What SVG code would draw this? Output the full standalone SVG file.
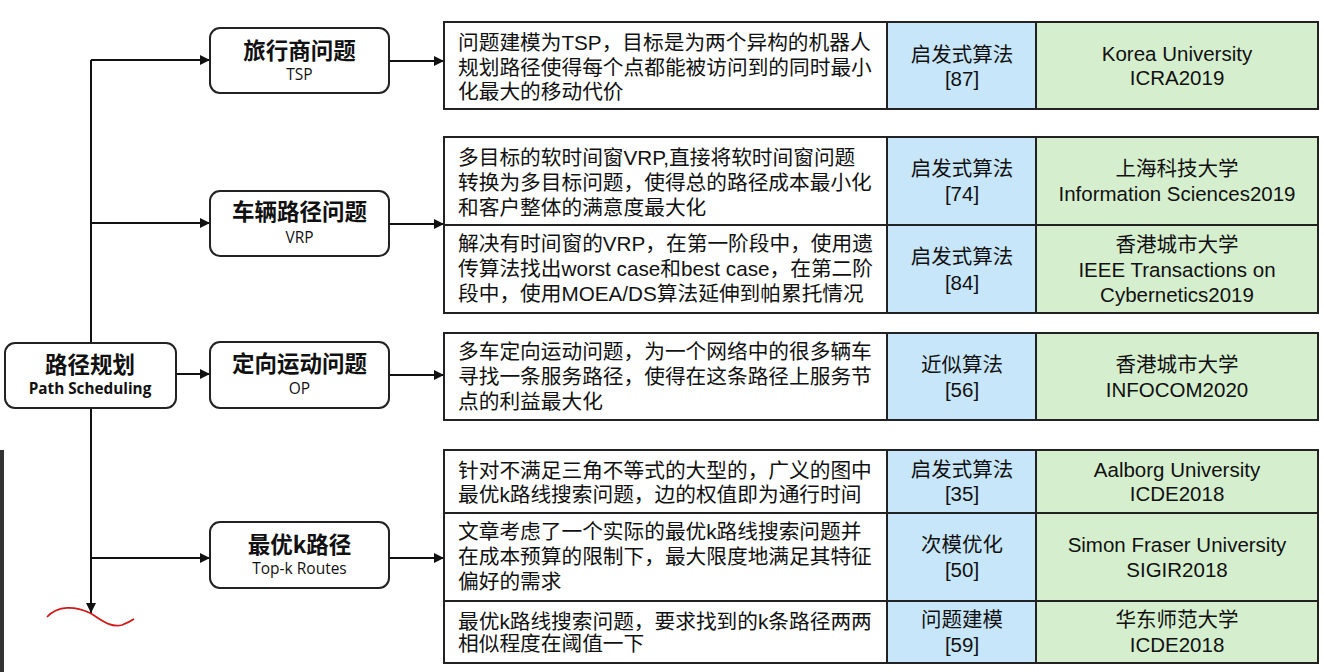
<svg xmlns="http://www.w3.org/2000/svg" width="1323" height="672" viewBox="0 0 1323 672">
<defs>
<marker id="ah" markerWidth="10" markerHeight="10" refX="10" refY="5" orient="auto" markerUnits="userSpaceOnUse">
<path d="M0,0 L10,5 L0,10 Z" fill="#111"/>
</marker>
<style>
.node{fill:#fff;stroke:#222;stroke-width:2}
.ttl{font-family:"Noto Sans CJK SC","Noto Sans",sans-serif;font-weight:bold;font-size:22.5px;fill:#111;text-anchor:middle}
.sub{font-family:"Open Sans","Noto Sans",sans-serif;font-size:15.5px;fill:#111;text-anchor:middle}
.cell{stroke:#222;stroke-width:2}
.w{fill:#fff}.b{fill:#c8e6fa}.g{fill:#d5eece}
.d{font-family:"Liberation Sans","Noto Sans CJK SC",sans-serif;font-size:20.7px;fill:#111}
.c{font-family:"Liberation Sans","Noto Sans CJK SC",sans-serif;font-size:20.5px;fill:#111;text-anchor:middle}
.con{fill:none;stroke:#111;stroke-width:2}
</style>
</defs>
<rect width="1323" height="672" fill="#fff"/>
<rect x="0" y="450" width="4" height="222" fill="#333"/>

<g id="connectors">
<path class="con" d="M91,60 V613" marker-end="url(#ah)"/>
<path class="con" d="M91,60 H210" marker-end="url(#ah)"/>
<path class="con" d="M91,223 H210" marker-end="url(#ah)"/>
<path class="con" d="M176,374 H210" marker-end="url(#ah)"/>
<path class="con" d="M91,558 H210" marker-end="url(#ah)"/>
<path class="con" d="M389,61 H444" marker-end="url(#ah)"/>
<path class="con" d="M389,224 H444" marker-end="url(#ah)"/>
<path class="con" d="M389,375 H444" marker-end="url(#ah)"/>
<path class="con" d="M389,558 H444" marker-end="url(#ah)"/>
</g>

<path d="M47,617 C58,605 75,606 90,613 C102,620 110,628 122,625 C127,623 131,621 134,619" fill="none" stroke="#d01818" stroke-width="1.8"/>

<g id="root">
<rect class="node" x="5" y="343" width="171" height="65" rx="10"/>
<text class="ttl" x="90" y="373">路径规划</text>
<text class="sub" x="90" y="394" style="font-weight:bold;font-size:15.3px">Path Scheduling</text>
</g>
<g id="tsp">
<rect class="node" x="210" y="28" width="179" height="65" rx="10"/>
<text class="ttl" x="299.5" y="59">旅行商问题</text>
<text class="sub" x="299.5" y="80">TSP</text>
</g>
<g id="vrp">
<rect class="node" x="210" y="191" width="179" height="65" rx="10"/>
<text class="ttl" x="299.5" y="220">车辆路径问题</text>
<text class="sub" x="299.5" y="243">VRP</text>
</g>
<g id="op">
<rect class="node" x="210" y="342" width="179" height="66" rx="10"/>
<text class="ttl" x="299.5" y="372">定向运动问题</text>
<text class="sub" x="299.5" y="394">OP</text>
</g>
<g id="topk">
<rect class="node" x="210" y="522" width="179" height="66" rx="10"/>
<text class="ttl" x="299.5" y="553">最优k路径</text>
<text class="sub" x="299.5" y="574">Top-k Routes</text>
</g>

<g id="table-tsp">
<rect class="cell w" x="444" y="22" width="443" height="87"/>
<rect class="cell b" x="887" y="22" width="149" height="87"/>
<rect class="cell g" x="1036" y="22" width="282" height="87"/>
<text class="d" x="458" y="50">问题建模为TSP，目标是为两个异构的机器人</text>
<text class="d" x="458" y="75">规划路径使得每个点都能被访问到的同时最小</text>
<text class="d" x="458" y="99">化最大的移动代价</text>
<text class="c" x="962" y="62">启发式算法</text>
<text class="c" x="962" y="86">[87]</text>
<text class="c" x="1177" y="61">Korea University</text>
<text class="c" x="1177" y="85">ICRA2019</text>
</g>

<g id="table-vrp">
<rect class="cell w" x="444" y="137" width="443" height="88"/>
<rect class="cell b" x="887" y="137" width="149" height="88"/>
<rect class="cell g" x="1036" y="137" width="282" height="88"/>
<rect class="cell w" x="444" y="225" width="443" height="88"/>
<rect class="cell b" x="887" y="225" width="149" height="88"/>
<rect class="cell g" x="1036" y="225" width="282" height="88"/>
<text class="d" x="458" y="165">多目标的软时间窗VRP,直接将软时间窗问题</text>
<text class="d" x="458" y="190">转换为多目标问题，使得总的路径成本最小化</text>
<text class="d" x="458" y="215">和客户整体的满意度最大化</text>
<text class="c" x="962" y="176">启发式算法</text>
<text class="c" x="962" y="201">[74]</text>
<text class="c" x="1177" y="176">上海科技大学</text>
<text class="c" x="1177" y="201">Information Sciences2019</text>
<text class="d" x="458" y="251">解决有时间窗的VRP，在第一阶段中，使用遗</text>
<text class="d" x="458" y="276">传算法找出worst case和best case，在第二阶</text>
<text class="d" x="458" y="301">段中，使用MOEA/DS算法延伸到帕累托情况</text>
<text class="c" x="962" y="264">启发式算法</text>
<text class="c" x="962" y="290">[84]</text>
<text class="c" x="1177" y="252">香港城市大学</text>
<text class="c" x="1177" y="277">IEEE Transactions on</text>
<text class="c" x="1177" y="302">Cybernetics2019</text>
</g>

<g id="table-op">
<rect class="cell w" x="444" y="333" width="443" height="87"/>
<rect class="cell b" x="887" y="333" width="149" height="87"/>
<rect class="cell g" x="1036" y="333" width="282" height="87"/>
<text class="d" x="458" y="359">多车定向运动问题，为一个网络中的很多辆车</text>
<text class="d" x="458" y="384">寻找一条服务路径，使得在这条路径上服务节</text>
<text class="d" x="458" y="409">点的利益最大化</text>
<text class="c" x="962" y="372">近似算法</text>
<text class="c" x="962" y="397">[56]</text>
<text class="c" x="1177" y="372">香港城市大学</text>
<text class="c" x="1177" y="397">INFOCOM2020</text>
</g>

<g id="table-topk">
<rect class="cell w" x="444" y="450" width="443" height="63"/>
<rect class="cell b" x="887" y="450" width="149" height="63"/>
<rect class="cell g" x="1036" y="450" width="282" height="63"/>
<rect class="cell w" x="444" y="513" width="443" height="88"/>
<rect class="cell b" x="887" y="513" width="149" height="88"/>
<rect class="cell g" x="1036" y="513" width="282" height="88"/>
<rect class="cell w" x="444" y="601" width="443" height="62"/>
<rect class="cell b" x="887" y="601" width="149" height="62"/>
<rect class="cell g" x="1036" y="601" width="282" height="62"/>
<text class="d" x="458" y="478">针对不满足三角不等式的大型的，广义的图中</text>
<text class="d" x="458" y="502">最优k路线搜索问题，边的权值即为通行时间</text>
<text class="c" x="962" y="477">启发式算法</text>
<text class="c" x="962" y="501">[35]</text>
<text class="c" x="1177" y="477">Aalborg University</text>
<text class="c" x="1177" y="501">ICDE2018</text>
<text class="d" x="458" y="539">文章考虑了一个实际的最优k路线搜索问题并</text>
<text class="d" x="458" y="564">在成本预算的限制下，最大限度地满足其特征</text>
<text class="d" x="458" y="589">偏好的需求</text>
<text class="c" x="962" y="552">次模优化</text>
<text class="c" x="962" y="577">[50]</text>
<text class="c" x="1177" y="552">Simon Fraser University</text>
<text class="c" x="1177" y="577">SIGIR2018</text>
<text class="d" x="458" y="629">最优k路线搜索问题，要求找到的k条路径两两</text>
<text class="d" x="458" y="651">相似程度在阈值一下</text>
<text class="c" x="962" y="627">问题建模</text>
<text class="c" x="962" y="652">[59]</text>
<text class="c" x="1177" y="627">华东师范大学</text>
<text class="c" x="1177" y="652">ICDE2018</text>
</g>
</svg>
